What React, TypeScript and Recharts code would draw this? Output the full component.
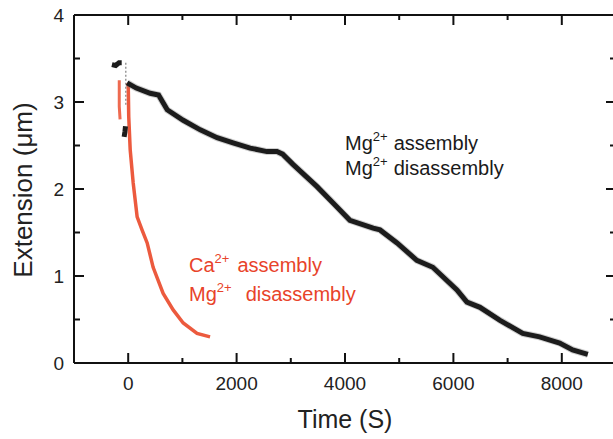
import { LineChart, Line, XAxis, YAxis } from 'recharts';

// time (s) / extension (um)
const blackPreTime = [-300, -230, -170, -120];
const blackPreExt = [3.43, 3.42, 3.45, 3.45];
const blackDipTime = [-75, -60, -50];
const blackDipExt = [2.6, 2.66, 2.72];
const blackTime = [-20, 150, 405, 560, 720, 1015, 1330, 1640, 1935, 2250, 2560, 2745, 2850, 3045, 3480, 3780, 4090, 4520, 4645, 4960, 5325, 5620, 6065, 6250, 6490, 6860, 7280, 7590, 7960, 8200, 8480];
const blackExt = [3.22, 3.16, 3.1, 3.08, 2.91, 2.79, 2.68, 2.59, 2.53, 2.47, 2.43, 2.43, 2.4, 2.28, 2.03, 1.84, 1.64, 1.55, 1.53, 1.38, 1.18, 1.1, 0.84, 0.7, 0.64, 0.49, 0.34, 0.3, 0.23, 0.15, 0.1];

const redSideTime = [-165, -165, -150];
const redSideExt = [3.25, 2.95, 2.8];
const redTime = [0, 10, 37, 92, 165, 255, 350, 460, 645, 830, 1015, 1270, 1510];
const redExt = [3.22, 2.83, 2.45, 2.07, 1.68, 1.53, 1.38, 1.1, 0.8, 0.61, 0.46, 0.34, 0.3];

const grayTime = [-45, -45];
const grayExt = [3.45, 2.95];

const xTicks = [0, 1000, 2000, 3000, 4000, 5000, 6000, 7000, 8000];
const yTicks = [0, 0.5, 1, 1.5, 2, 2.5, 3, 3.5, 4];

const FONT = '"Liberation Sans", Arial, sans-serif';
const INK = '#111';

const pts = (t: number[], v: number[]) => t.map((x, i) => ({ t: x, v: v[i] }));

// inward ticks, long on majors, labels only on the bottom/left axes
const BottomTick = (p: any) => {
  const x = Number(p.x), y = Number(p.y);
  const major = p.payload.value % 2000 === 0;
  return (
    <g>
      <path d={`M${x},${y}V${y - (major ? 10 : 5)}`} stroke={INK} strokeWidth={2} fill="none" />
      {major && (
        <text x={x} y={y + 27} textAnchor="middle" fontSize={19} fill="#222" fontFamily={FONT}>
          {p.payload.value}
        </text>
      )}
    </g>
  );
};

const TopTick = (p: any) => {
  const x = Number(p.x), y = Number(p.y);
  const major = p.payload.value % 2000 === 0;
  return (
    <g>
      <path d={`M${x},${y}V${y + (major ? 10 : 5)}`} stroke={INK} strokeWidth={2} fill="none" />
    </g>
  );
};

const LeftTick = (p: any) => {
  const x = Number(p.x), y = Number(p.y);
  const major = p.payload.value % 1 === 0;
  return (
    <g>
      <path d={`M${x},${y}H${x + (major ? 10 : 6)}`} stroke={INK} strokeWidth={2} fill="none" />
      {major && (
        <text x={x - 10} y={y + 7} textAnchor="end" fontSize={19} fill="#222" fontFamily={FONT}>
          {p.payload.value}
        </text>
      )}
    </g>
  );
};

const RightTick = (p: any) => {
  const x = Number(p.x), y = Number(p.y);
  const major = p.payload.value % 1 === 0;
  return (
    <g>
      <path d={`M${x},${y}H${x - (major ? 10 : 6)}`} stroke={INK} strokeWidth={2} fill="none" />
    </g>
  );
};

export default function App() {
  return (
    <div style={{ position: 'absolute', left: 0, top: 0, width: 613, height: 439, overflow: 'hidden', background: '#fff' }}>
      <LineChart width={617} height={439} margin={{ top: 14, right: 0, left: 0, bottom: 0 }}>
        <XAxis dataKey="t" type="number" domain={[-1000, 9000]} allowDataOverflow ticks={xTicks} interval={0}
          tick={BottomTick} tickLine={false} tickSize={0} tickMargin={0} height={76}
          axisLine={{ stroke: INK, strokeWidth: 2 }} />
        <XAxis xAxisId="top" orientation="top" dataKey="t" type="number" domain={[-1000, 9000]} allowDataOverflow
          ticks={xTicks} interval={0} tick={TopTick} tickLine={false} tickSize={0} tickMargin={0} height={1}
          axisLine={{ stroke: INK, strokeWidth: 2 }} />
        <YAxis type="number" domain={[0, 4]} allowDataOverflow ticks={yTicks} interval={0} tick={LeftTick}
          tickLine={false} tickSize={0} tickMargin={0} width={74} axisLine={{ stroke: INK, strokeWidth: 2 }} />
        <YAxis yAxisId="right" orientation="right" type="number" domain={[0, 4]} allowDataOverflow ticks={yTicks}
          interval={0} tick={RightTick} tickLine={false} tickSize={0} tickMargin={0} width={1}
          axisLine={{ stroke: INK, strokeWidth: 2 }} />

        {/* invisible series so the top/right frame axes get drawn */}
        <Line xAxisId="top" yAxisId="right" data={pts(blackTime, blackExt)} dataKey="v" stroke="none" dot={false} isAnimationActive={false} />
        <Line data={pts(grayTime, grayExt)} dataKey="v" stroke="#9a9a9a" strokeWidth={1.5} strokeDasharray="2 2" dot={false} isAnimationActive={false} />
        <Line data={pts(redSideTime, redSideExt)} dataKey="v" stroke="#ee6a50" strokeWidth={3} dot={false} isAnimationActive={false} />
        <Line data={pts(redTime, redExt)} dataKey="v" stroke="#ec5a3e" strokeWidth={3.5} dot={false} isAnimationActive={false} />
        <Line data={pts(blackPreTime, blackPreExt)} dataKey="v" stroke="#1c1c1c" strokeWidth={5} dot={false} isAnimationActive={false} />
        <Line data={pts(blackDipTime, blackDipExt)} dataKey="v" stroke="#1c1c1c" strokeWidth={5} dot={false} isAnimationActive={false} />
        <Line data={pts(blackTime, blackExt)} dataKey="v" stroke="#777" strokeWidth={7} strokeOpacity={0.35} dot={false} isAnimationActive={false} />
        <Line data={pts(blackTime, blackExt)} dataKey="v" stroke="#1c1c1c" strokeWidth={5} dot={false} isAnimationActive={false} />

        <text x={345} y={428} textAnchor="middle" fontSize={25} fill="#222" fontFamily={FONT}>Time (S)</text>
        <text transform="translate(32,190) rotate(-90)" textAnchor="middle" fontSize={26} fill="#222" fontFamily={FONT}>Extension (μm)</text>

        <text x={345} y={150} fontSize={20} fill="#1a1a1a" fontFamily={FONT}>
          Mg<tspan fontSize={13} dy={-9}>2+</tspan><tspan dy={9} dx={6}>assembly</tspan>
        </text>
        <text x={345} y={175} fontSize={20} fill="#1a1a1a" fontFamily={FONT}>
          Mg<tspan fontSize={13} dy={-9}>2+</tspan><tspan dy={9} dx={6}>disassembly</tspan>
        </text>
        <text x={189} y={272} fontSize={20} fill="#e8432a" fontFamily={FONT}>
          Ca<tspan fontSize={13} dy={-9}>2+</tspan><tspan dy={9} dx={8}>assembly</tspan>
        </text>
        <text x={189} y={301} fontSize={20} fill="#e8432a" fontFamily={FONT}>
          Mg<tspan fontSize={13} dy={-9}>2+</tspan><tspan dy={9} dx={14}>disassembly</tspan>
        </text>
      </LineChart>
    </div>
  );
}
